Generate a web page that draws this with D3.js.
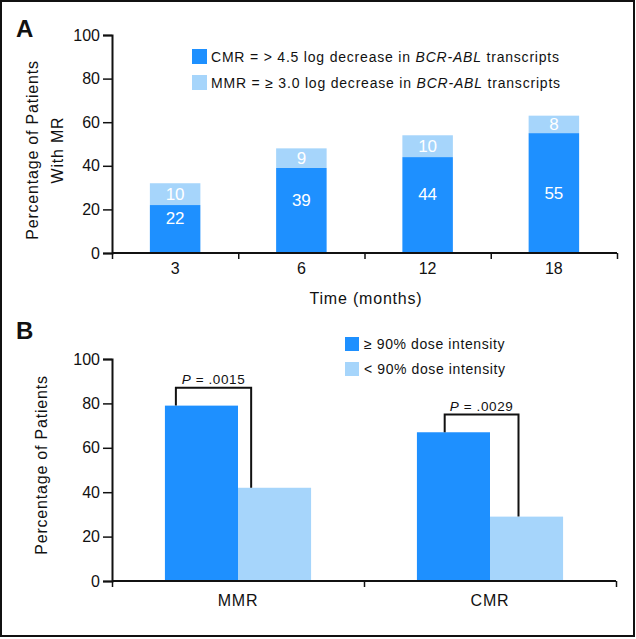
<!DOCTYPE html>
<html>
<head>
<meta charset="utf-8">
<script src="https://cdn.jsdelivr.net/npm/d3@7"></script>
<style>
  body { margin: 0; background: #fff; }
  svg text { font-family: "Liberation Sans", Arial, sans-serif; fill: #111; }
</style>
</head>
<body>
<div id="chart"></div>
<script>
const width = 636;
const height = 639;

// panel A data
const months = ["3", "6", "12", "18"];
const cmrValues = [22, 39, 44, 55];
const mmrValues = [10, 9, 10, 8];

// panel B data
const responses = ["MMR", "CMR"];
const highDose = [79, 67];
const lowDose = [42, 29];
const pLabels = ["P = .0015", "P = .0029"];
const bracketLeft = [0.15, 0.38];   // fraction of bar width
const bracketRight = [0.18, 0.39];

const yTicks = [0, 20, 40, 60, 80, 100];

const darkBlue = "#1e90ff";
const lightBlue = "#a6d5fb";
const labelFont = { size: "16px", spacing: "0.8px" };

const svg = d3.select("#chart")
    .append("svg")
    .attr("width", width)
    .attr("height", height);

svg.append("rect")
    .attr("x", 1).attr("y", 1)
    .attr("width", 633).attr("height", 635)
    .attr("fill", "none")
    .attr("stroke", "#111")
    .attr("stroke-width", 2);

function label(sel) {
    return sel.style("font-size", labelFont.size).style("letter-spacing", labelFont.spacing);
}

function styleAxis(g) {
    g.selectAll(".domain").attr("stroke", "#111").attr("stroke-width", 2);
    g.selectAll(".tick line").attr("stroke", "#111").attr("stroke-width", 1.5);
    g.selectAll(".tick text").style("font-size", "16px").attr("fill", "#111");
}

// ---------- Panel A ----------
const xA = d3.scaleBand().domain(months).range([112, 617]).paddingInner(0.6).paddingOuter(0.3);
const yA = d3.scaleLinear().domain([0, 100]).range([253, 35]);

svg.append("text").attr("x", 16).attr("y", 37)
    .style("font-size", "24px").style("font-weight", "bold").text("A");

const barsA = svg.append("g");
months.forEach((m, i) => {
    const total = cmrValues[i] + mmrValues[i];
    const cx = xA(m) + xA.bandwidth() / 2;
    barsA.append("rect")
        .attr("x", xA(m)).attr("width", xA.bandwidth())
        .attr("y", yA(cmrValues[i])).attr("height", yA(0) - yA(cmrValues[i]))
        .attr("fill", darkBlue);
    barsA.append("rect")
        .attr("x", xA(m)).attr("width", xA.bandwidth())
        .attr("y", yA(total)).attr("height", yA(cmrValues[i]) - yA(total))
        .attr("fill", lightBlue);
    barsA.append("text")
        .attr("x", cx)
        .attr("y", yA(Math.min(cmrValues[i] / 2 + 5, 27.5)) + 6)
        .attr("text-anchor", "middle")
        .style("font-size", "17px").style("fill", "#fff")
        .text(cmrValues[i]);
    barsA.append("text")
        .attr("x", cx)
        .attr("y", yA(cmrValues[i] + mmrValues[i] / 2) + 6)
        .attr("text-anchor", "middle")
        .style("font-size", "17px").style("fill", "#fff")
        .text(mmrValues[i]);
});

const axisYA = svg.append("g")
    .attr("transform", "translate(112,0)")
    .call(d3.axisLeft(yA).tickValues(yTicks).tickSize(9).tickPadding(3));
styleAxis(axisYA);

// x axis with ticks between the categories
const xEdgesA = d3.scaleLinear().domain([0, 4]).range([112, 617]);
const axisXA = svg.append("g")
    .attr("transform", "translate(0,253)")
    .call(d3.axisBottom(xEdgesA).ticks(4).tickSize(6).tickFormat(""));
axisXA.selectAll(".domain").attr("d", "M112,0H617");
styleAxis(axisXA);
months.forEach(m => {
    svg.append("text")
        .attr("x", xA(m) + xA.bandwidth() / 2).attr("y", 274)
        .attr("text-anchor", "middle").style("font-size", "16px").text(m);
});

label(svg.append("text").attr("x", 366).attr("y", 304)
    .attr("text-anchor", "middle")).text("Time (months)");

label(svg.append("text")
    .attr("transform", "translate(38,150) rotate(-90)")
    .attr("text-anchor", "middle")).text("Percentage of Patients");
label(svg.append("text")
    .attr("transform", "translate(63,150) rotate(-90)")
    .attr("text-anchor", "middle")).text("With MR");

const legendA = [
    { color: darkBlue, pre: "CMR = > 4.5 log decrease in ", it: "BCR-ABL", post: " transcripts" },
    { color: lightBlue, pre: "MMR = \u2265 3.0 log decrease in ", it: "BCR-ABL", post: " transcripts" }
];
legendA.forEach((d, i) => {
    const y = 49 + i * 26;
    svg.append("rect").attr("x", 192).attr("y", y).attr("width", 15).attr("height", 15).attr("fill", d.color);
    const t = svg.append("text").attr("x", 211).attr("y", y + 13)
        .style("font-size", "14px").style("letter-spacing", "0.8px");
    t.append("tspan").text(d.pre);
    t.append("tspan").style("font-style", "italic").text(d.it);
    t.append("tspan").text(d.post);
});

// ---------- Panel B ----------
const xB = d3.scaleBand().domain(responses).range([112, 616]).paddingInner(0.42).paddingOuter(0.21);
const yB = d3.scaleLinear().domain([0, 100]).range([581, 359]);
const barW = xB.bandwidth() / 2;

svg.append("text").attr("x", 16).attr("y", 339)
    .style("font-size", "24px").style("font-weight", "bold").text("B");

responses.forEach((r, i) => {
    const x0 = xB(r);
    svg.append("rect")
        .attr("x", x0).attr("width", barW)
        .attr("y", yB(highDose[i])).attr("height", yB(0) - yB(highDose[i]))
        .attr("fill", darkBlue);
    svg.append("rect")
        .attr("x", x0 + barW).attr("width", barW)
        .attr("y", yB(lowDose[i])).attr("height", yB(0) - yB(lowDose[i]))
        .attr("fill", lightBlue);

    const lx = x0 + barW * bracketLeft[i];
    const rx = x0 + barW + barW * bracketRight[i];
    const top = yB(highDose[i] + 8);
    svg.append("path")
        .attr("d", `M${lx},${yB(highDose[i])}V${top}H${rx}V${yB(lowDose[i])}`)
        .attr("fill", "none").attr("stroke", "#111").attr("stroke-width", 2);
    const pt = svg.append("text")
        .attr("x", (lx + rx) / 2).attr("y", top - 4)
        .attr("text-anchor", "middle")
        .style("font-size", "13.5px").style("letter-spacing", "0.6px");
    pt.append("tspan").style("font-style", "italic").text("P");
    pt.append("tspan").text(pLabels[i].slice(1));
});

const axisYB = svg.append("g")
    .attr("transform", "translate(112,0)")
    .call(d3.axisLeft(yB).tickValues(yTicks).tickSize(9).tickPadding(3));
styleAxis(axisYB);

const xEdgesB = d3.scaleLinear().domain([0, 2]).range([112, 616]);
const axisXB = svg.append("g")
    .attr("transform", "translate(0,581)")
    .call(d3.axisBottom(xEdgesB).ticks(2).tickSize(6).tickFormat(""));
axisXB.selectAll(".domain").attr("d", "M112,0H616");
styleAxis(axisXB);
responses.forEach(r => {
    label(svg.append("text")
        .attr("x", xB(r) + xB.bandwidth() / 2).attr("y", 606)
        .attr("text-anchor", "middle")).text(r);
});

label(svg.append("text")
    .attr("transform", "translate(47,465) rotate(-90)")
    .attr("text-anchor", "middle")).text("Percentage of Patients");

const legendB = [
    { color: darkBlue, label: "\u2265 90% dose intensity" },
    { color: lightBlue, label: "< 90% dose intensity" }
];
legendB.forEach((d, i) => {
    const y = 337 + i * 25;
    svg.append("rect").attr("x", 345).attr("y", y).attr("width", 14).attr("height", 14).attr("fill", d.color);
    svg.append("text").attr("x", 364).attr("y", y + 12)
        .style("font-size", "14px").style("letter-spacing", "0.6px").text(d.label);
});
</script>
</body>
</html>
